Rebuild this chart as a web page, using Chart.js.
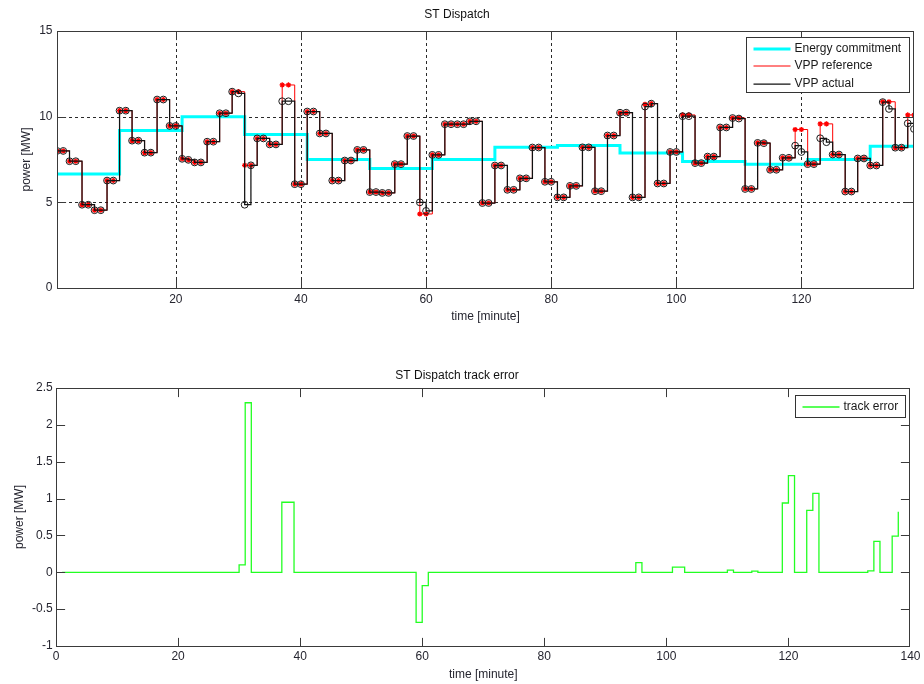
<!DOCTYPE html>
<html>
<head>
<meta charset="utf-8">
<title>ST Dispatch</title>
<script src="https://cdn.jsdelivr.net/npm/chart.js@4.4.1/dist/chart.umd.min.js"></script>
<style>
  body { margin: 0; background: #fff; }
  .panel { position: absolute; left: 0; width: 924px; height: 342px; }
  .panel canvas { display: block; }
  #dispatch-panel { top: 0; }
  #error-panel { top: 342px; }
</style>
</head>
<body>
<div class="panel" id="dispatch-panel"><canvas id="dispatch" width="924" height="342"></canvas></div>
<div class="panel" id="error-panel"><canvas id="track-error" width="924" height="342"></canvas></div>
<script>
// ===== DATA (one value per minute, minutes 1..138) =====
const vppReference = [
  8.0, 8.0, 7.4, 7.4, 4.86, 4.86, 4.54, 4.54, 6.27, 6.27,
  10.35, 10.35, 8.6, 8.6, 7.9, 7.9, 11.0, 11.0, 9.46, 9.46,
  7.54, 7.48, 7.33, 7.33, 8.54, 8.54, 10.2, 10.2, 11.46, 11.46,
  7.16, 7.16, 8.73, 8.73, 8.38, 8.38, 11.85, 11.85, 6.06, 6.06,
  10.3, 10.3, 9.02, 9.02, 6.27, 6.27, 7.44, 7.44, 8.06, 8.06,
  5.6, 5.6, 5.55, 5.55, 7.23, 7.23, 8.87, 8.87, 4.32, 4.32,
  7.77, 7.77, 9.56, 9.56, 9.56, 9.56, 9.73, 9.73, 4.96, 4.96,
  7.15, 7.15, 5.73, 5.73, 6.4, 6.4, 8.2, 8.2, 6.2, 6.2,
  5.29, 5.29, 5.96, 5.96, 8.21, 8.21, 5.65, 5.65, 8.9, 8.9,
  10.23, 10.23, 5.29, 5.29, 10.72, 10.76, 6.1, 6.1, 7.94, 7.94,
  10.1, 10.1, 7.29, 7.29, 7.67, 7.67, 9.37, 9.37, 9.92, 9.92,
  5.78, 5.78, 8.47, 8.47, 6.9, 6.9, 7.6, 7.6, 9.25, 9.25,
  7.23, 7.23, 9.58, 9.58, 7.79, 7.79, 5.63, 5.63, 7.56, 7.56,
  7.15, 7.15, 10.87, 10.87, 8.19, 8.19, 10.1, 10.1,
]

const vppActual = [
  8.0, 8.0, 7.4, 7.4, 4.86, 4.86, 4.54, 4.54, 6.27, 6.27,
  10.35, 10.35, 8.6, 8.6, 7.9, 7.9, 11.0, 11.0, 9.46, 9.46,
  7.54, 7.48, 7.33, 7.33, 8.54, 8.54, 10.2, 10.2, 11.46, 11.36,
  4.86, 7.16, 8.73, 8.73, 8.38, 8.38, 10.9, 10.9, 6.06, 6.06,
  10.3, 10.3, 9.02, 9.02, 6.27, 6.27, 7.44, 7.44, 8.06, 8.06,
  5.6, 5.6, 5.55, 5.55, 7.23, 7.23, 8.87, 8.87, 5.0, 4.5,
  7.77, 7.77, 9.56, 9.56, 9.56, 9.56, 9.73, 9.73, 4.96, 4.96,
  7.15, 7.15, 5.73, 5.73, 6.4, 6.4, 8.2, 8.2, 6.2, 6.2,
  5.29, 5.29, 5.96, 5.96, 8.21, 8.21, 5.65, 5.65, 8.9, 8.9,
  10.23, 10.23, 5.29, 5.29, 10.59, 10.76, 6.1, 6.1, 7.94, 7.94,
  10.03, 10.03, 7.29, 7.29, 7.67, 7.67, 9.37, 9.37, 9.92, 9.89,
  5.78, 5.78, 8.47, 8.455, 6.9, 6.9, 7.6, 7.6, 8.31, 7.94,
  7.23, 7.23, 8.74, 8.51, 7.79, 7.79, 5.63, 5.63, 7.56, 7.56,
  7.15, 7.15, 10.85, 10.45, 8.19, 8.19, 9.61, 9.28,
]

const trackError = [
  0, 0, 0, 0, 0, 0, 0, 0, 0, 0,
  0, 0, 0, 0, 0, 0, 0, 0, 0, 0,
  0, 0, 0, 0, 0, 0, 0, 0, 0, 0.1,
  2.3, 0, 0, 0, 0, 0, 0.95, 0.95, 0, 0,
  0, 0, 0, 0, 0, 0, 0, 0, 0, 0,
  0, 0, 0, 0, 0, 0, 0, 0, -0.68, -0.18,
  0, 0, 0, 0, 0, 0, 0, 0, 0, 0,
  0, 0, 0, 0, 0, 0, 0, 0, 0, 0,
  0, 0, 0, 0, 0, 0, 0, 0, 0, 0,
  0, 0, 0, 0, 0.13, 0, 0, 0, 0, 0,
  0.07, 0.07, 0, 0, 0, 0, 0, 0, 0, 0.03,
  0, 0, 0, 0.015, 0, 0, 0, 0, 0.94, 1.31,
  0, 0, 0.84, 1.07, 0, 0, 0, 0, 0, 0,
  0, 0, 0.02, 0.42, 0, 0, 0.49, 0.82,
]

// energy commitment, held for 10-minute blocks
const commitmentStart = [1, 11, 21, 31, 41, 51, 61, 71, 81, 91, 101, 111, 121, 131]
const commitment = [6.65, 9.19, 10.0, 8.96, 7.5, 6.98, 7.5, 8.21, 8.31, 7.88, 7.38, 7.23, 7.5, 8.27]
const lastMinute = 138

// tick labels
const dispatchTimeTicks = [20, 40, 60, 80, 100, 120]
const dispatchPowerTicks = [0, 5, 10, 15]
const errorTimeTicks = [0, 20, 40, 60, 80, 100, 120, 140]
const errorPowerTicks = [-1, -0.5, 0, 0.5, 1, 1.5, 2, 2.5]

// ===== HELPERS =====
const toPoints = (values) => values.map((v, i) => ({ x: i + 1, y: v }))

const commitmentPoints = commitmentStart.map((m, i) => ({ x: m, y: commitment[i] }))
commitmentPoints.push({ x: lastMinute, y: commitment[commitment.length - 1] })

const FONT = '"Liberation Sans", Arial, Helvetica, sans-serif'
const INK = '#262630'

Chart.defaults.font.family = FONT
Chart.defaults.font.size = 12
Chart.defaults.color = INK

// matlab-like axes: dotted grid, framed box, ticks pointing inward, boxed legend
const matlabAxes = {
  id: 'matlabAxes',
  beforeDatasetsDraw(chart, args, opts) {
    if (!opts.grid) return
    const { ctx, chartArea: a, scales } = chart
    ctx.save()
    ctx.strokeStyle = '#2a2a2a'
    ctx.lineWidth = 1
    ctx.setLineDash([3, 3])
    scales.x.ticks.forEach((t) => {
      const px = Math.round(scales.x.getPixelForValue(t.value)) + 0.5
      if (px <= a.left + 1 || px >= a.right - 1) return
      ctx.beginPath()
      ctx.moveTo(px, a.top)
      ctx.lineTo(px, a.bottom)
      ctx.stroke()
    })
    scales.y.ticks.forEach((t) => {
      const py = Math.round(scales.y.getPixelForValue(t.value)) + 0.5
      if (py <= a.top + 1 || py >= a.bottom - 1) return
      ctx.beginPath()
      ctx.moveTo(a.left, py)
      ctx.lineTo(a.right, py)
      ctx.stroke()
    })
    ctx.restore()
  },
  afterDatasetsDraw(chart, args, opts) {
    const { ctx, chartArea: a, scales } = chart
    const L = Math.round(a.left) + 0.5
    const R = Math.round(a.right) - 0.5
    const T = Math.round(a.top) + 0.5
    const B = Math.round(a.bottom) + 0.5
    const tick = 8.6
    ctx.save()
    ctx.strokeStyle = '#3a3a3a'
    ctx.lineWidth = 1
    ctx.beginPath()
    scales.x.ticks.forEach((t) => {
      const px = Math.round(scales.x.getPixelForValue(t.value)) + 0.5
      if (px <= L + 1 || px >= R - 1) return
      ctx.moveTo(px, B)
      ctx.lineTo(px, B - tick)
      ctx.moveTo(px, T)
      ctx.lineTo(px, T + tick)
    })
    scales.y.ticks.forEach((t) => {
      const py = Math.round(scales.y.getPixelForValue(t.value)) + 0.5
      if (py <= T + 1 || py >= B - 1) return
      ctx.moveTo(L, py)
      ctx.lineTo(L + tick, py)
      ctx.moveTo(R, py)
      ctx.lineTo(R - tick, py)
    })
    ctx.stroke()
    ctx.strokeRect(L, T, R - L, B - T)

    const lg = opts.legend
    if (lg) {
      const bx = Math.round(a.right - lg.right - lg.width) + 0.5
      const by = Math.round(a.top + lg.top) + 0.5
      ctx.fillStyle = '#fff'
      ctx.fillRect(bx, by, lg.width, lg.height)
      ctx.strokeStyle = '#333'
      ctx.lineWidth = 1
      ctx.strokeRect(bx, by, lg.width, lg.height)
      ctx.font = '12px ' + FONT
      ctx.textBaseline = 'middle'
      ctx.textAlign = 'left'
      lg.labels.forEach((label, i) => {
        const ds = chart.data.datasets.find((d) => d.label === label)
        const ry = Math.round(by + lg.firstRow + i * lg.rowGap)
        ctx.strokeStyle = ds.borderColor
        ctx.lineWidth = Math.min(ds.borderWidth, 3)
        ctx.beginPath()
        ctx.moveTo(bx + 7, ry)
        ctx.lineTo(bx + 44, ry)
        ctx.stroke()
        ctx.fillStyle = '#1a1a1a'
        ctx.fillText(label, bx + 48, ry)
      })
    }
    ctx.restore()
  },
}

// ===== ST DISPATCH =====
new Chart(document.getElementById('dispatch'), {
  type: 'line',
  data: {
    datasets: [
      {
        label: 'VPP actual',
        data: toPoints(vppActual),
        stepped: true,
        borderColor: '#111111',
        borderWidth: 1.25,
        pointStyle: 'circle',
        pointRadius: 3.4,
        pointBorderColor: '#1a1a1a',
        pointBackgroundColor: 'rgba(0,0,0,0)',
        pointBorderWidth: 1,
        order: 0,
      },
      {
        label: 'VPP reference',
        data: toPoints(vppReference),
        stepped: true,
        borderColor: '#ff0000',
        borderWidth: 1,
        pointStyle: 'star',
        pointRadius: 2.6,
        pointBorderColor: '#ff0000',
        pointBorderWidth: 1.3,
        order: 1,
      },
      {
        label: 'Energy commitment',
        data: commitmentPoints,
        stepped: true,
        borderColor: '#00ffff',
        borderWidth: 3,
        pointRadius: 0,
        order: 2,
      },
    ],
  },
  options: {
    responsive: false,
    animation: false,
    events: [],
    layout: { padding: { top: 0, right: 10, bottom: 0, left: 0 } },
    scales: {
      x: {
        type: 'linear',
        min: 1,
        max: lastMinute,
        afterBuildTicks: (s) => { s.ticks = dispatchTimeTicks.map((v) => ({ value: v })) },
        afterFit: (s) => { s.height = 54 },
        grid: { display: false, drawTicks: false },
        border: { display: false },
        ticks: { padding: 4, maxRotation: 0, autoSkip: false, callback: (v) => String(v) },
        title: { display: true, text: 'time [minute]', padding: { top: 0, bottom: 18 } },
      },
      y: {
        min: 0,
        max: 15,
        afterBuildTicks: (s) => { s.ticks = dispatchPowerTicks.map((v) => ({ value: v })) },
        afterFit: (s) => { s.width = 57 },
        grid: { display: false, drawTicks: false },
        border: { display: false },
        ticks: { padding: 4.5, callback: (v) => String(v) },
        title: { display: true, text: 'power [MW]', padding: { top: 19, bottom: 0 } },
      },
    },
    plugins: {
      legend: { display: false },
      tooltip: { enabled: false },
      title: {
        display: true,
        text: 'ST Dispatch',
        color: '#111',
        font: { size: 12, weight: 'normal' },
        padding: { top: 7, bottom: 9.6 },
      },
      matlabAxes: {
        grid: true,
        legend: {
          labels: ['Energy commitment', 'VPP reference', 'VPP actual'],
          right: 5, top: 6, width: 163, height: 55, firstRow: 11.5, rowGap: 17.3,
        },
      },
    },
  },
  plugins: [matlabAxes],
})

// ===== TRACK ERROR =====
new Chart(document.getElementById('track-error'), {
  type: 'line',
  data: {
    datasets: [
      {
        label: 'track error',
        data: toPoints(trackError),
        stepped: true,
        borderColor: '#22ff22',
        borderWidth: 1.3,
        pointRadius: 0,
      },
    ],
  },
  options: {
    responsive: false,
    animation: false,
    events: [],
    layout: { padding: { top: 0, right: 10, bottom: 0, left: 0 } },
    scales: {
      x: {
        type: 'linear',
        min: 0,
        max: 140,
        afterBuildTicks: (s) => { s.ticks = errorTimeTicks.map((v) => ({ value: v })) },
        afterFit: (s) => { s.height = 38 },
        grid: { display: false, drawTicks: false },
        border: { display: false },
        ticks: { padding: 3.5, maxRotation: 0, autoSkip: false, callback: (v) => String(v) },
        title: { display: true, text: 'time [minute]', padding: { top: 0, bottom: 2 } },
      },
      y: {
        min: -1,
        max: 2.5,
        afterBuildTicks: (s) => { s.ticks = errorPowerTicks.map((v) => ({ value: v })) },
        afterFit: (s) => { s.width = 56 },
        grid: { display: false, drawTicks: false },
        border: { display: false },
        ticks: { padding: 3.3, callback: (v) => String(v) },
        title: { display: true, text: 'power [MW]', padding: { top: 12.3, bottom: 0 } },
      },
    },
    plugins: {
      legend: { display: false },
      tooltip: { enabled: false },
      title: {
        display: true,
        text: 'ST Dispatch track error',
        color: '#111',
        font: { size: 12, weight: 'normal' },
        padding: { top: 26, bottom: 5.6 },
      },
      matlabAxes: {
        grid: false,
        legend: {
          labels: ['track error'],
          right: 5, top: 7, width: 110, height: 22, firstRow: 11, rowGap: 17,
        },
      },
    },
  },
  plugins: [matlabAxes],
})
</script>
</body>
</html>
